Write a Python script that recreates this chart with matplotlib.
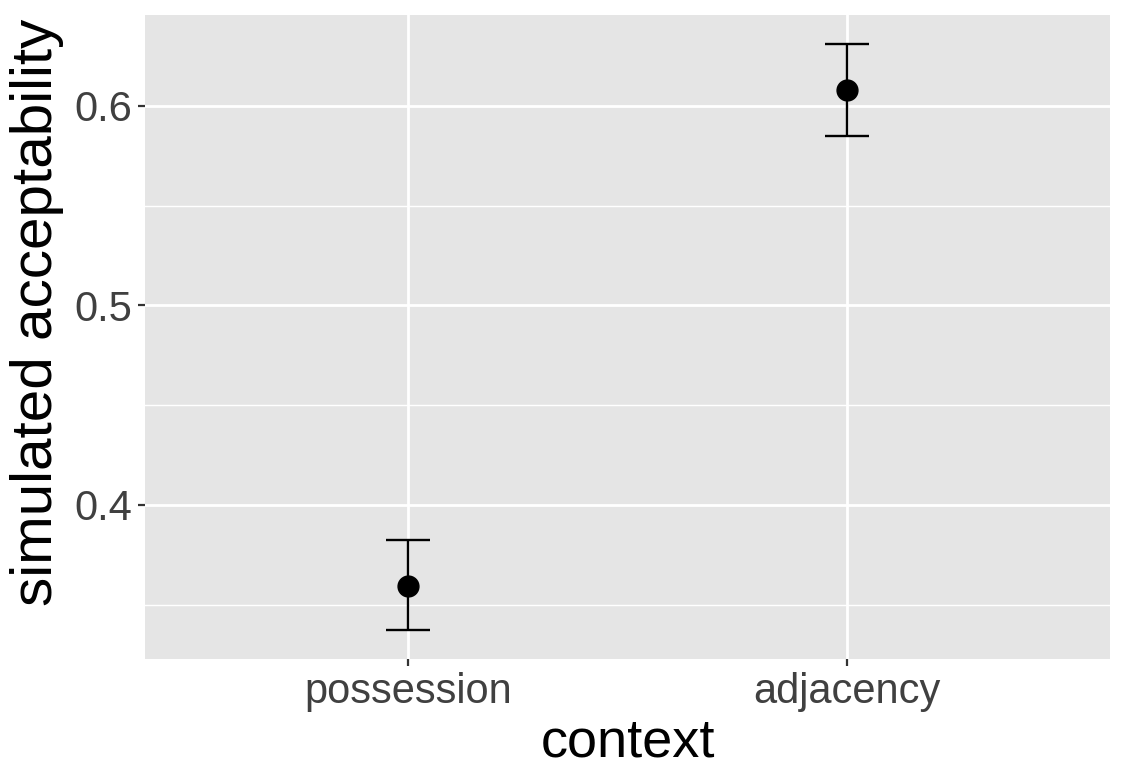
import matplotlib
matplotlib.use("Agg")
import matplotlib.pyplot as plt
import numpy as np

# values
contexts = ["possession", "adjacency"]
means = [0.3595, 0.608]
lower = [0.3373, 0.585]
upper = [0.3825, 0.6311]

plt.rcParams['font.family'] = ['Liberation Sans', 'DejaVu Sans']

fig = plt.figure(figsize=(11.26, 7.84), dpi=100)
ax = fig.add_axes([0.1288, 0.1594, 0.857, 0.8215])

x = np.arange(1, len(contexts) + 1)
means = np.array(means)
yerr = [means - np.array(lower), np.array(upper) - means]

ax.set_facecolor('#E5E5E5')
for s in ax.spines.values():
    s.set_visible(False)

ax.errorbar(x, means, yerr=yerr, fmt='none', ecolor='black',
            elinewidth=1.7, capsize=16, capthick=1.7, zorder=3)
ax.plot(x, means, 'o', color='black', markersize=15, zorder=4)

ax.set_xlim(0.4, 2.6)
ax.set_ylim(0.3228, 0.6456)
ax.set_xticks(x)
ax.set_xticklabels(contexts)
ax.set_yticks([0.4, 0.5, 0.6])
ax.set_yticklabels(['0.4', '0.5', '0.6'])
ax.set_yticks([0.35, 0.45, 0.55], minor=True)

ax.grid(which='major', color='white', linewidth=2.0, zorder=0)
ax.grid(which='minor', axis='y', color='white', linewidth=1.0, zorder=0)
ax.set_axisbelow(True)

ax.tick_params(which='major', length=5, width=1.6, color='#333333',
               labelsize=30, labelcolor='#404040', pad=4)
ax.tick_params(which='minor', length=0)

ax.set_xlabel('context', fontsize=39, labelpad=4)
ax.set_ylabel('simulated acceptability', fontsize=42)
ax.yaxis.set_label_coords(-0.084, 0.538)

fig.savefig('out.png', dpi=100)
